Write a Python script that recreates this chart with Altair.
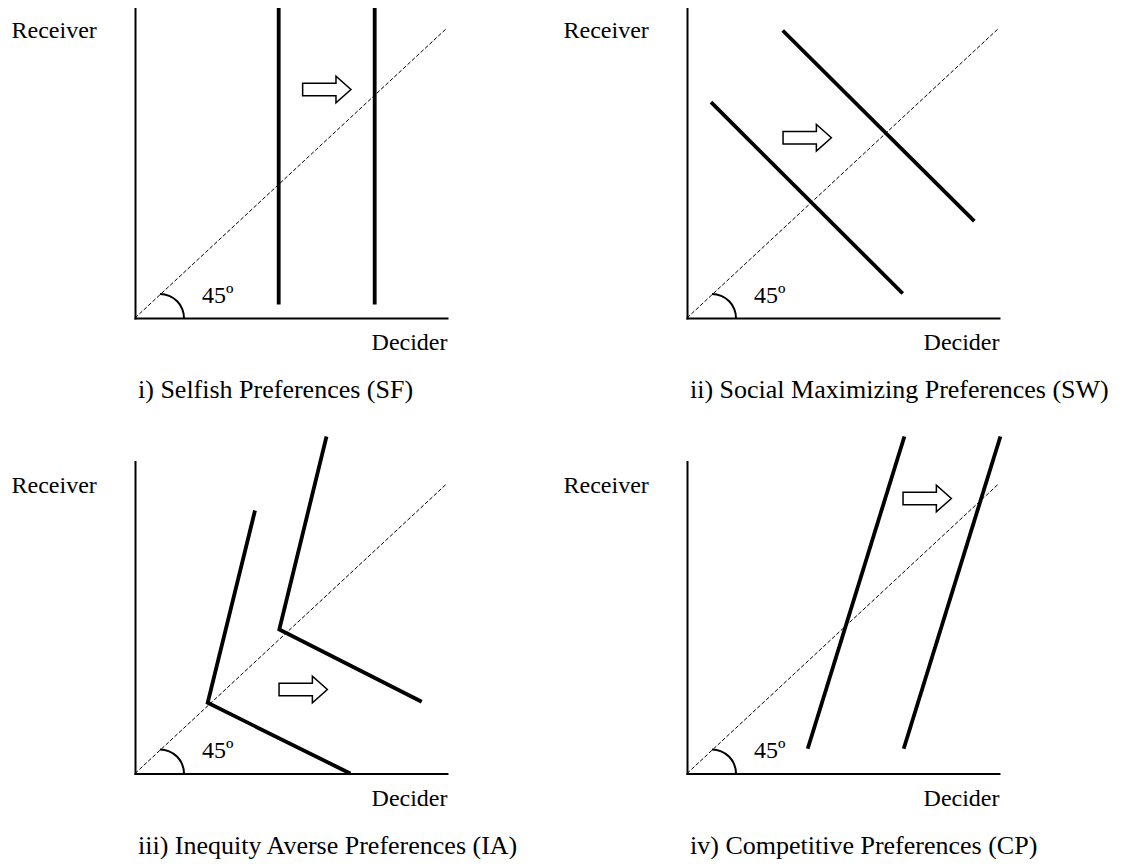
import math
import altair as alt
import pandas as pd

# ---------------- texts ----------------
panel_titles = [
    "i) Selfish Preferences (SF)",
    "ii) Social Maximizing Preferences (SW)",
    "iii) Inequity Averse Preferences (IA)",
    "iv) Competitive Preferences (CP)",
]
x_label = "Decider"
y_label = "Receiver"
angle_label = "45º"

# ---------------- data (Decider, Receiver units of each panel) ----------------
axis_max = 312
diag_decider = [0, 312]
diag_receiver = [0, 290]

# i) selfish: vertical indifference curves
sf_curve = ["a", "a", "b", "b"]
sf_decider = [143.7, 143.7, 239.7, 239.7]
sf_receiver = [13.5, 311.8, 13.5, 311.8]

# ii) social welfare: downward sloping
sw_curve = ["a", "a", "b", "b"]
sw_decider = [24, 215.7, 95.7, 287.3]
sw_receiver = [215.8, 24.5, 287.5, 96.8]

# iii) inequity averse: kinked on the diagonal
ia_curve = ["a", "a", "a", "b", "b", "b"]
ia_decider = [120, 72.7, 215.3, 191.5, 144.3, 286.7]
ia_receiver = [263, 70.7, 0, 337, 144, 71.7]

# iv) competitive: steep upward sloping
cp_curve = ["a", "a", "b", "b"]
cp_decider = [120.7, 217.4, 216.7, 313.4]
cp_receiver = [24.7, 337, 24.7, 337]

# direction arrows (centre)
arrow_decider = [191.8, 120.2, 168.2, 240.2]
arrow_receiver = [228.5, 180.2, 84, 275]

curves = [
    (sf_curve, sf_decider, sf_receiver),
    (sw_curve, sw_decider, sw_receiver),
    (ia_curve, ia_decider, ia_receiver),
    (cp_curve, cp_decider, cp_receiver),
]

FONT = "Liberation Serif"
W = H = 312
ARROW = "M-1,-0.26L0.38,-0.26L0.38,-0.55L1,0L0.38,0.55L0.38,0.26L-1,0.26Z"


def panel(i):
    curve, dec, rec = curves[i]
    xs = alt.Scale(domain=[0, axis_max], nice=False, zero=False)
    ys = alt.Scale(domain=[0, axis_max], nice=False, zero=False)
    common = dict(domain=True, domainColor="black", domainWidth=2, domainCap="square",
                  ticks=False, labels=False, grid=False, titleAngle=0,
                  titleFont=FONT, titleFontSize=24, titleFontWeight="normal",
                  titleColor="black", titleBaseline="alphabetic")
    xaxis = alt.Axis(title=x_label, titleX=312, titleY=31.5, titleAlign="right", **common)
    yaxis = alt.Axis(title=y_label, titleX=-124, titleY=31, titleAlign="left", **common)

    diag_df = pd.DataFrame({"decider": diag_decider, "receiver": diag_receiver})
    diag = alt.Chart(diag_df).mark_line(color="black", strokeWidth=1, strokeDash=[4, 2]).encode(
        x=alt.X("decider:Q", scale=xs, axis=xaxis),
        y=alt.Y("receiver:Q", scale=ys, axis=yaxis),
    )

    cdf = pd.DataFrame({"curve": curve, "decider": dec, "receiver": rec,
                        "step": list(range(len(dec)))})
    lines = alt.Chart(cdf).mark_line(color="black", strokeWidth=3.8, strokeCap="butt",
                                     strokeJoin="miter").encode(
        x="decider:Q", y="receiver:Q", detail="curve:N", order="step:Q"
    )

    adf = pd.DataFrame({"decider": [arrow_decider[i]], "receiver": [arrow_receiver[i]]})
    arrow = alt.Chart(adf).mark_point(shape=ARROW, size=2333, filled=False, color="black",
                                      strokeWidth=1.5, opacity=1).encode(
        x="decider:Q", y="receiver:Q"
    )

    ldf = pd.DataFrame({"label": [angle_label]})
    arc = alt.Chart(ldf).mark_arc(theta=0, theta2=math.pi / 2, innerRadius=23,
                                  outerRadius=25, color="black").encode(
        x=alt.datum(25), y=alt.datum(0)
    )
    angle_txt = alt.Chart(ldf).mark_text(align="left", baseline="alphabetic", font=FONT,
                                         fontSize=24, color="black").encode(
        x=alt.datum(67), y=alt.datum(15.5), text="label:N"
    )

    tdf = pd.DataFrame({"title": [panel_titles[i]]})
    title_txt = alt.Chart(tdf).mark_text(align="left", baseline="alphabetic", font=FONT,
                                         fontSize=26, color="black").encode(
        x=alt.datum(3), y=alt.datum(-80), text="title:N"
    )

    return alt.layer(diag, lines, arrow, arc, angle_txt, title_txt).properties(width=W, height=H)


def build(top_pad):
    return alt.concat(
        panel(0), panel(1), panel(2), panel(3),
        columns=2,
        spacing={"row": 143.5, "column": 240},
        bounds="flush",
    ).properties(
        padding={"left": 2, "top": top_pad, "right": 2, "bottom": 0},
        background="white",
    ).configure_view(stroke="transparent")


try:
    chart = build(-10)
    chart.to_dict()
except Exception:
    chart = build(0)

chart.save("out.html", embed_options={"renderer": "svg", "actions": False})
